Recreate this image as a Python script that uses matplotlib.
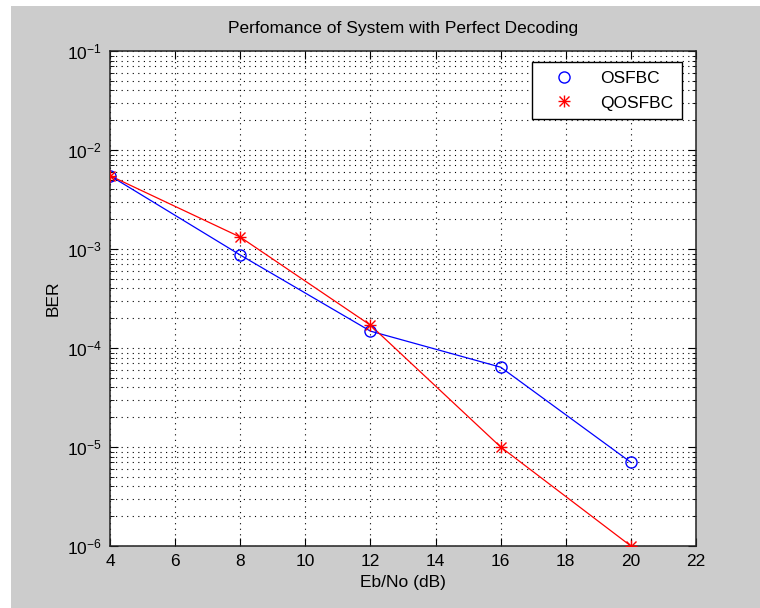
"""BER vs Eb/No for OSFBC and QOSFBC, MATLAB-style figure."""

import matplotlib
matplotlib.use("Agg")
import matplotlib.pyplot as plt
from matplotlib.patches import Rectangle
from matplotlib.ticker import LogLocator, MultipleLocator, NullFormatter

ebno = [4, 8, 12, 16, 20]
ber_osfbc = [5.5e-3, 8.7e-4, 1.48e-4, 6.4e-5, 7.0e-6]
ber_qosfbc = [5.5e-3, 1.32e-3, 1.7e-4, 1.0e-5, 1.0e-6]

plt.rcParams["font.family"] = ["Liberation Sans", "DejaVu Sans"]
plt.rcParams["mathtext.fontset"] = "custom"
plt.rcParams["mathtext.rm"] = "Liberation Sans"
plt.rcParams["mathtext.default"] = "regular"

W, H = 760, 608
fig = plt.figure(figsize=(W / 100, H / 100), dpi=100, facecolor="white")
# grey figure area, offset like the screenshot
fig.patches.append(Rectangle((11 / W, 0), 1 - 11 / W, 1 - 6 / H, transform=fig.transFigure,
                             facecolor="#cccccc", edgecolor="none", zorder=-10))

ax = fig.add_axes([110 / W, (H - 546) / H, 586 / W, 495 / H])
ax.set_facecolor("white")

ax.semilogy(ebno, ber_osfbc, color="#0000ff", lw=0.9, zorder=3)
ax.semilogy(ebno, ber_qosfbc, color="#ff0000", lw=0.9, zorder=3)
h1, = ax.plot(ebno, ber_osfbc, "o", mfc="none", mec="#0000ff", ms=8, mew=1.0, ls="none", zorder=4)
h2a, = ax.plot(ebno, ber_qosfbc, "+", color="#ff0000", ms=9, mew=1.0, ls="none", zorder=4)
h2b, = ax.plot(ebno, ber_qosfbc, "x", color="#ff0000", ms=6.5, mew=1.0, ls="none", zorder=4)

ax.set_xlim(4, 22)
ax.set_ylim(1e-6, 1e-1)
ax.xaxis.set_major_locator(MultipleLocator(2))
ax.yaxis.set_major_locator(LogLocator(base=10, numticks=10))
ax.yaxis.set_minor_locator(LogLocator(base=10, subs=range(2, 10), numticks=50))
ax.yaxis.set_minor_formatter(NullFormatter())

dots = (0, (1, 4))
ax.grid(True, which="major", axis="both", color="black", ls=dots, lw=0.8)
ax.grid(True, which="minor", axis="y", color="black", ls=dots, lw=0.8)

ax.tick_params(which="both", direction="in", top=True, right=True, labelsize=12.5, pad=6)
ax.tick_params(which="major", length=6)
ax.tick_params(which="minor", length=3)
for s in ax.spines.values():
    s.set_linewidth(1.1)
    s.set_color("#222222")

ax.set_title("Perfomance of System with Perfect Decoding", fontsize=12.5, pad=13)
ax.set_xlabel("Eb/No (dB)", fontsize=12.5, labelpad=4)
ax.set_ylabel("BER", fontsize=12.5, labelpad=4)

leg = ax.legend([h1, (h2a, h2b)], ["OSFBC", "QOSFBC"], loc="upper right",
                bbox_to_anchor=(1 - 14 / 586, 1 - 11 / 495), borderaxespad=0,
                fontsize=12.5, fancybox=False, framealpha=1, edgecolor="black",
                borderpad=0.5, handlelength=2.6, handletextpad=0.8, labelspacing=0.55)
leg.get_frame().set_linewidth(1.0)

fig.savefig("out.png", dpi=100, facecolor=fig.get_facecolor())
